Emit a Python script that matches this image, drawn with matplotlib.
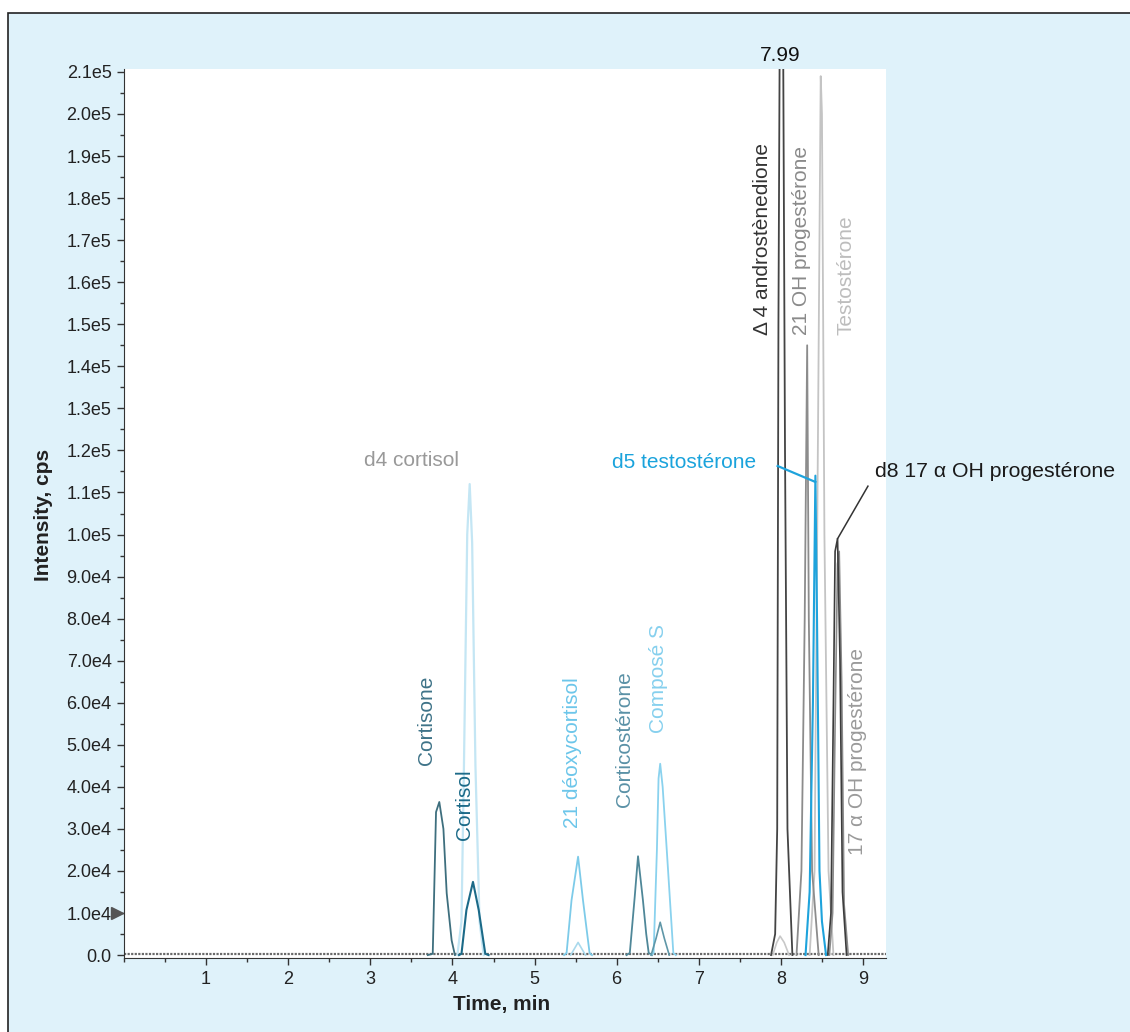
import matplotlib
matplotlib.use("Agg")
import matplotlib.pyplot as plt
from matplotlib.patches import Rectangle
from matplotlib.ticker import MultipleLocator, FuncFormatter

plt.rcParams['font.family'] = ['Liberation Sans', 'DejaVu Sans']

# fond et bruit de base
baseline_t = [0.0, 9.28]
baseline_i = [350, 350]

# pics (temps en min, intensité en cps)
cortisone_t = [3.70, 3.76, 3.80, 3.84, 3.89, 3.93, 3.99, 4.03]
cortisone_i = [0, 300, 34000, 36400, 30000, 14700, 3500, 0]

cortisol_t = [4.08, 4.11, 4.17, 4.25, 4.32, 4.40, 4.44]
cortisol_i = [0, 300, 10700, 17400, 10700, 300, 0]

d4cortisol_t = [4.06, 4.11, 4.14, 4.18, 4.21, 4.24, 4.28, 4.33, 4.38]
d4cortisol_i = [0, 8000, 45000, 100000, 112000, 98000, 45000, 8000, 0]

deoxy21_t = [5.36, 5.39, 5.45, 5.53, 5.59, 5.67, 5.70]
deoxy21_i = [0, 500, 13000, 23400, 13000, 500, 0]

deoxy21b_t = [5.44, 5.50, 5.53, 5.56, 5.62]
deoxy21b_i = [0, 2000, 3000, 2000, 0]

corticosterone_t = [6.12, 6.16, 6.22, 6.26, 6.32, 6.36, 6.39, 6.43]
corticosterone_i = [0, 500, 13900, 23500, 13000, 5000, 500, 0]

composeS_t = [6.42, 6.45, 6.49, 6.51, 6.53, 6.56, 6.61, 6.69, 6.72]
composeS_i = [0, 500, 25000, 42000, 45500, 40000, 25000, 500, 0]

composeSb_t = [6.42, 6.48, 6.53, 6.58, 6.64]
composeSb_i = [0, 4000, 7800, 4000, 0]

andro_t = [7.88, 7.93, 7.955, 7.97, 7.995, 8.02, 8.05, 8.08, 8.14]
andro_i = [0, 5000, 30000, 150000, 260000, 250000, 120000, 30000, 0]

andro_b_t = [7.90, 7.95, 7.99, 8.04, 8.10]
andro_b_i = [0, 3000, 4500, 3000, 0]

oh21_t = [8.19, 8.25, 8.29, 8.32, 8.34, 8.38, 8.46]
oh21_i = [0, 20000, 80000, 145000, 80000, 20000, 0]

testo_t = [8.35, 8.41, 8.45, 8.485, 8.50, 8.53, 8.58, 8.64]
testo_i = [0, 20000, 120000, 209000, 200000, 100000, 20000, 0]

d5testo_t = [8.30, 8.35, 8.39, 8.42, 8.44, 8.47, 8.50, 8.55]
d5testo_i = [0, 15000, 60000, 114000, 80000, 20000, 8000, 0]

d8oh17_t = [8.57, 8.61, 8.64, 8.66, 8.69, 8.72, 8.75, 8.80]
d8oh17_i = [0, 10000, 60000, 96000, 99000, 70000, 15000, 0]

oh17_t = [8.59, 8.63, 8.66, 8.69, 8.71, 8.74, 8.77, 8.82]
oh17_i = [0, 10000, 55000, 93000, 96000, 65000, 12000, 0]

x_ticks = [1, 2, 3, 4, 5, 6, 7, 8, 9]
y_ticks = [0, 10000, 20000, 30000, 40000, 50000, 60000, 70000, 80000, 90000,
           100000, 110000, 120000, 130000, 140000, 150000, 160000, 170000,
           180000, 190000, 200000, 210000]

fig = plt.figure(figsize=(11.3, 10.32), dpi=100)
fig.patches.append(Rectangle((8 / 1130, -0.01), 1.0, 1 - 13 / 1032 + 0.01,
                             transform=fig.transFigure, facecolor='#dff2fa',
                             edgecolor='#222222', linewidth=1.2, zorder=-10))

ax = fig.add_axes([124 / 1130, 74 / 1032, 762 / 1130, 889 / 1032])
ax.set_facecolor('white')
ax.set_xlim(0, 9.28)
ax.set_ylim(-700, 210700)

# traces
ax.plot(baseline_t, baseline_i, color='#6a6a6a', lw=1.6, ls=(0, (1, 0.6)))
ax.plot(d4cortisol_t, d4cortisol_i, color='#c4e6f4', lw=1.6)
ax.plot(cortisone_t, cortisone_i, color='#3e6f7e', lw=1.3)
ax.plot(cortisol_t, cortisol_i, color='#1b6a88', lw=1.5)
ax.plot(deoxy21_t, deoxy21_i, color='#7dcbe9', lw=1.3)
ax.plot(deoxy21b_t, deoxy21b_i, color='#a9d9ec', lw=1.2)
ax.plot(corticosterone_t, corticosterone_i, color='#4f8798', lw=1.3)
ax.plot(composeS_t, composeS_i, color='#8ad2ee', lw=1.3)
ax.plot(composeSb_t, composeSb_i, color='#5f97a8', lw=1.2)
ax.plot(andro_b_t, andro_b_i, color='#c8c8c8', lw=1.2)
ax.plot(testo_t, testo_i, color='#c4c4c4', lw=1.3)
ax.plot(oh21_t, oh21_i, color='#8c8c8c', lw=1.3)
ax.plot(andro_t, andro_i, color='#444444', lw=1.3)
ax.plot(oh17_t, oh17_i, color='#8a8a8a', lw=1.2)
ax.plot(d8oh17_t, d8oh17_i, color='#3c3c3c', lw=1.2)
ax.plot(d5testo_t, d5testo_i, color='#1ea3dc', lw=1.5)

# lignes de rappel
ax.plot([7.96, 8.42], [116300, 112500], color='#1ea3dc', lw=1.6, clip_on=False)
ax.plot([9.06, 8.69], [111500, 99000], color='#333333', lw=1.1, clip_on=False)

# étiquettes
fs = 15
ax.text(7.99, 214000, '7.99', fontsize=fs, color='#111111', ha='center', va='center', clip_on=False)
ax.text(7.78, 147400, 'Δ 4 androstènedione', fontsize=fs, color='#333333', rotation=90, ha='center', va='bottom')
ax.text(8.25, 147400, '21 OH progestérone', fontsize=fs, color='#8a8a8a', rotation=90, ha='center', va='bottom')
ax.text(8.79, 147400, 'Testostérone', fontsize=fs, color='#bdbdbd', rotation=90, ha='center', va='bottom')
ax.text(3.50, 117500, 'd4 cortisol', fontsize=fs, color='#999999', ha='center', va='center')
ax.text(7.70, 117200, 'd5 testostérone', fontsize=fs, color='#1aa3dc', ha='right', va='center')
ax.text(9.14, 115100, 'd8 17 α OH progestérone', fontsize=15.3, color='#1a1a1a', ha='left', va='center', clip_on=False)
ax.text(3.69, 45200, 'Cortisone', fontsize=fs, color='#3e7388', rotation=90, ha='center', va='bottom')
ax.text(4.15, 27300, 'Cortisol', fontsize=fs, color='#1b6a88', rotation=90, ha='center', va='bottom')
ax.text(5.46, 30200, '21 déoxycortisol', fontsize=fs, color='#6cc6ea', rotation=90, ha='center', va='bottom')
ax.text(6.10, 35200, 'Corticostérone', fontsize=fs, color='#5a91a6', rotation=90, ha='center', va='bottom')
ax.text(6.51, 52800, 'Composé S', fontsize=fs, color='#86d0ee', rotation=90, ha='center', va='bottom')
ax.text(8.93, 23800, '17 α OH progestérone', fontsize=fs, color='#9a9a9a', rotation=90, ha='center', va='bottom')

# repère sur l'axe Y
ax.plot([-0.09], [10000], marker='>', color='#555555', markersize=9, clip_on=False)

# axes
for s in ['top', 'right']:
    ax.spines[s].set_visible(False)
ax.spines['left'].set_color('#333333')
ax.spines['bottom'].set_color('#333333')
ax.set_xticks(x_ticks)
ax.set_yticks(y_ticks)
ax.xaxis.set_minor_locator(MultipleLocator(0.5))
ax.yaxis.set_minor_locator(MultipleLocator(5000))
ax.yaxis.set_major_formatter(FuncFormatter(lambda v, p: '0.0' if v == 0 else '%.1fe%d' % (v / 10 ** len(str(int(v))[1:]), len(str(int(v))) - 1)))
ax.tick_params(axis='both', which='major', length=5, width=1, color='#333333', labelsize=13, labelcolor='#222222', pad=4)
ax.tick_params(axis='both', which='minor', length=3, width=1, color='#333333')

ax.set_xlabel('Time, min', fontsize=15, fontweight='bold', color='#222222')
ax.set_ylabel('Intensity, cps', fontsize=15, fontweight='bold', color='#222222')
ax.xaxis.set_label_coords(0.495, -0.042)
ax.yaxis.set_label_coords(-0.093, 0.498)

fig.savefig('out.png', dpi=100)
